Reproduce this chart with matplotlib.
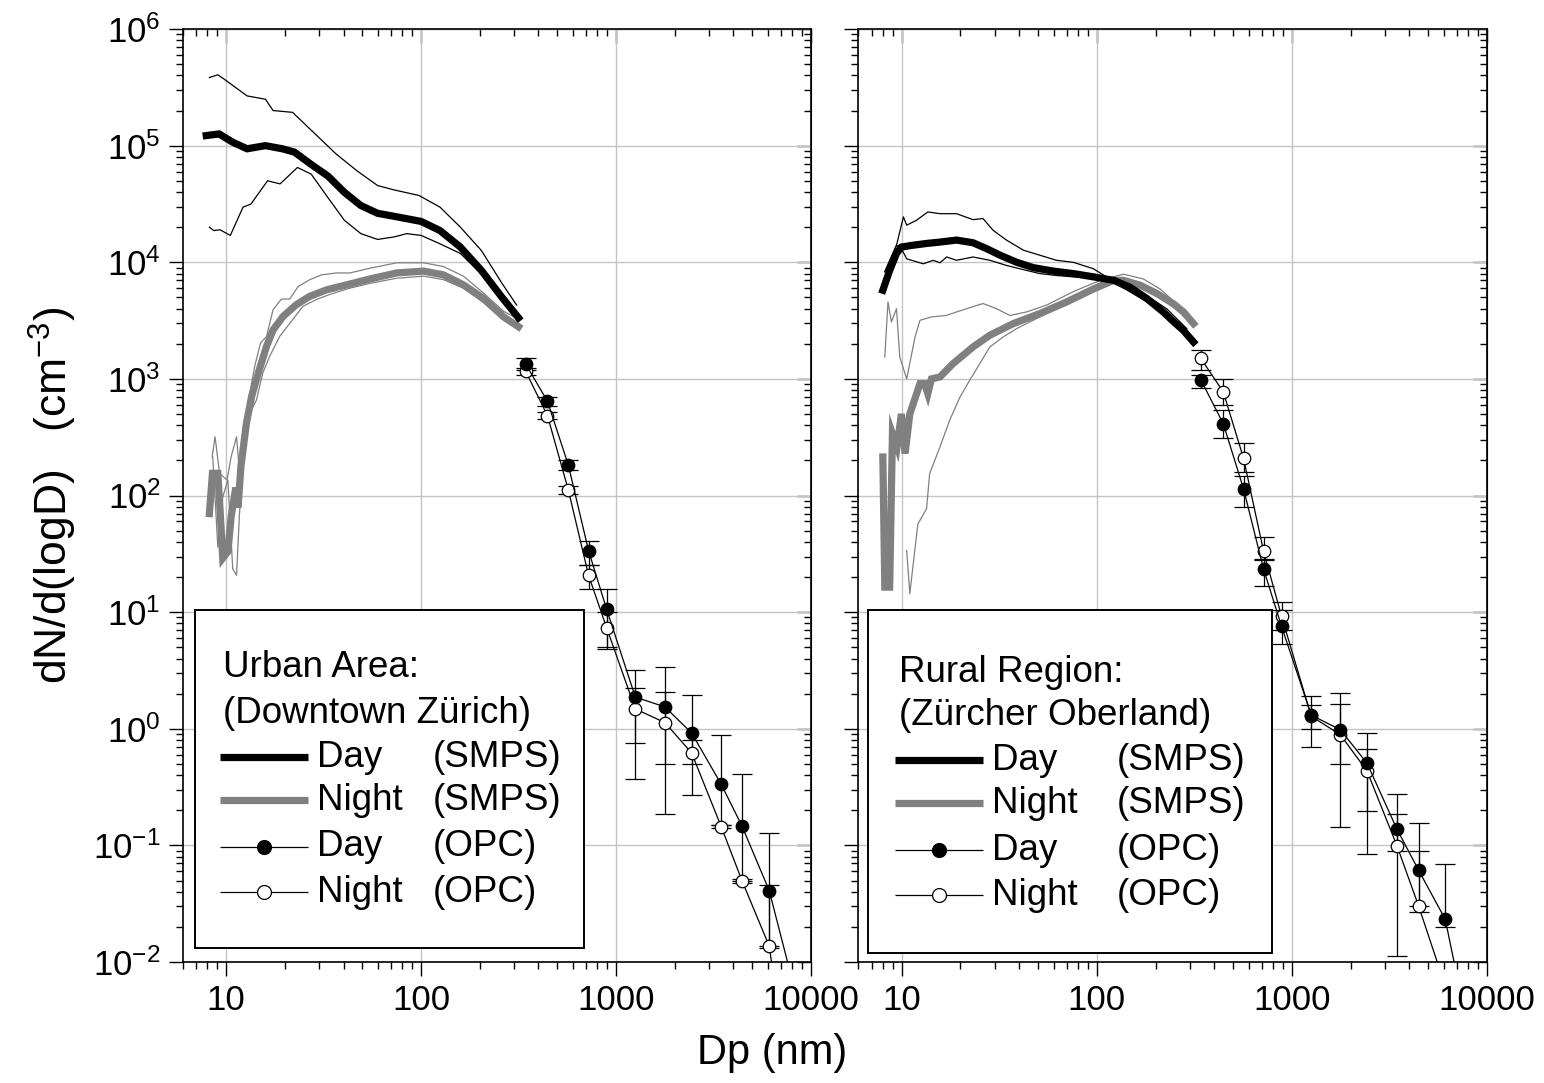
import numpy as np
import matplotlib
matplotlib.use('Agg')
import matplotlib.pyplot as plt
from matplotlib.ticker import LogLocator, FuncFormatter, NullFormatter
from matplotlib.patches import Rectangle
from matplotlib.lines import Line2D

plt.rcParams['font.family'] = ['Liberation Sans', 'DejaVu Sans']
plt.rcParams['mathtext.fontset'] = 'custom'
plt.rcParams['mathtext.rm'] = 'Liberation Sans'
plt.rcParams['mathtext.it'] = 'Liberation Sans:italic'

# ---------------- Urban (left) ----------------
u_day_D = [7.9, 9.2, 10.8, 12.8, 15.9, 19.4, 22.4, 27.3, 33.2, 40.4, 49, 59.8, 76.4, 100, 125, 159, 204, 260, 316]
u_day_N = [1.22e5, 1.26e5, 1.07e5, 9.4e4, 1.0e5, 9.4e4, 8.8e4, 6.9e4, 5.5e4, 3.98e4, 3.07e4, 2.63e4, 2.44e4,
           2.24e4, 1.87e4, 1.35e4, 8.5e3, 5.0e3, 3.34e3]
u_dayhi_D = [8.2, 9.06, 9.8, 12.8, 15.9, 17.4, 21.9, 28.6, 36.6, 46.8, 59.8, 72.8, 97.5, 125, 159, 204, 260, 309]
u_dayhi_N = [3.84e5, 4.05e5, 3.7e5, 2.67e5, 2.5e5, 2.0e5, 1.93e5, 1.26e5, 8.5e4, 6.1e4, 4.55e4, 4.17e4, 3.74e4,
             2.97e4, 2.0e4, 1.26e4, 6.6e3, 4.3e3]
u_daylo_D = [8.2, 8.63, 9.29, 10.5, 12.2, 13.4, 16.3, 18.9, 23.2, 27.3, 33.2, 40.4, 49.1, 59.8, 72.8, 84.4, 100,
             125, 159, 204, 260, 308]
u_daylo_N = [2.0e4, 1.87e4, 1.9e4, 1.7e4, 2.97e4, 3.16e4, 5.0e4, 4.7e4, 6.5e4, 5.7e4, 3.6e4, 2.29e4, 1.76e4,
             1.57e4, 1.65e4, 1.76e4, 1.7e4, 1.44e4, 1.19e4, 7.9e3, 5.0e3, 3.6e3]

u_night_D = [8.2, 8.5, 9.06, 9.3, 9.6, 10.2, 10.6, 11.2, 11.5, 11.9, 12.7, 13.5, 14.6, 16.1, 17.4, 19.6, 22.9,
             26.8, 32.7, 41.4, 54.7, 75, 103, 130, 165, 209, 265, 316]
u_night_N = [70, 155, 155, 75, 29, 33, 66, 117, 79, 178, 417, 705, 1.12e3, 1.9e3, 2.63e3, 3.44e3, 4.33e3, 5.1e3,
             5.8e3, 6.4e3, 7.2e3, 8.1e3, 8.4e3, 7.8e3, 6.4e3, 4.9e3, 3.4e3, 2.8e3]
u_nighthi_D = [8.47, 8.77, 9.24, 10.1, 10.6, 11.3, 11.7, 12.4, 13.2, 14.0, 15.0, 16.1, 17.4, 19.2, 21.2, 23.4,
               26.9, 30.8, 36.8, 43.1, 54.7, 75, 103, 130, 165, 209, 265, 310]
u_nighthi_N = [215, 319, 155, 136, 215, 319, 155, 389, 753, 1.28e3, 2.03e3, 2.31e3, 3.92e3, 4.84e3, 4.84e3, 6.2e3,
               7.1e3, 7.8e3, 8.1e3, 8.1e3, 8.9e3, 9.9e3, 9.9e3, 9.2e3, 7.6e3, 5.45e3, 3.8e3, 3.3e3]
u_nightlo_D = [8.53, 9.06, 9.6, 10.2, 10.8, 11.3, 11.7, 12.4, 13.2, 14.3, 15.4, 16.7, 18.8, 21.2, 24.8, 29.1,
               34.0, 43.1, 54.7, 75, 103, 130, 165, 209, 265, 310]
u_nightlo_N = [215, 36, 97, 136, 23.5, 20.7, 70, 262, 507, 660, 1.12e3, 1.56e3, 2.31e3, 3.0e3, 4.2e3, 4.8e3,
               5.3e3, 6.0e3, 6.6e3, 7.3e3, 7.6e3, 7.1e3, 6.0e3, 4.5e3, 3.2e3, 2.73e3]

u_opc_D = [344, 445, 569, 723, 895, 1256, 1782, 2444, 3470, 4426, 6110, 8000]
u_opcday_N = [1340, 643, 183, 33.7, 10.6, 1.87, 1.54, 0.92, 0.333, 0.147, 0.041, 0.0071]
u_opcday_hi = [1500, 700, 200, 41, 15.7, 3.2, 3.4, 1.96, 0.89, 0.41, 0.128, np.nan]
u_opcday_lo = [1200, 590, 167, 25.3, 4.8, 0.37, 0.185, 0.27, 0.15, 0.05, 0.0137, np.nan]
u_opcnight_N = [1160, 484, 112, 20.7, 7.36, 1.48, 1.13, 0.62, 0.144, 0.05, 0.0137, 0.0006]
u_opcnight_hi = [1230, 520, 120, 25.3, 10.0, 2.24, 2.05, 0.8, 0.15, 0.052, 0.046, np.nan]
u_opcnight_lo = [1090, 450, 104, 15.7, 5.05, 0.75, 0.5, 0.5, 0.14, 0.048, 0.0133, np.nan]

# ---------------- Rural (right) ----------------
r_day_D = [8.0, 8.67, 9.4, 9.96, 11.4, 13.4, 15.7, 19.1, 23.2, 27.2, 31.9, 38.8, 47.2, 59.8, 75.7, 96, 122, 148,
           180, 219, 247, 278, 313]
r_day_N = [5.76e3, 8.5e3, 1.19e4, 1.35e4, 1.4e4, 1.45e4, 1.49e4, 1.55e4, 1.47e4, 1.31e4, 1.15e4, 1.0e4, 9.0e3,
           8.4e3, 8.0e3, 7.5e3, 7.0e3, 6.1e3, 4.9e3, 3.75e3, 3.1e3, 2.6e3, 2.07e3]
r_dayhi_D = [8.19, 9.4, 10.2, 10.6, 11.9, 13.6, 15.7, 19.1, 23.2, 26.1, 29.4, 34.4, 42, 51, 62, 75.7, 96, 112,
             142, 180, 229, 289]
r_dayhi_N = [8.3e3, 1.4e4, 2.45e4, 2.08e4, 2.29e4, 2.7e4, 2.61e4, 2.61e4, 2.32e4, 2.37e4, 1.88e4, 1.55e4, 1.27e4,
             1.15e4, 1.04e4, 1.0e4, 8.8e3, 7.5e3, 6.8e3, 5.2e3, 3.97e3, 2.7e3]
r_daylo_D = [8.19, 9.4, 9.96, 10.6, 12.9, 14.5, 15.7, 17.0, 19.1, 23.2, 28.3, 34.4, 42, 51, 62, 75.7, 96, 112,
             142, 180, 229, 289]
r_daylo_N = [8.3e3, 1.4e4, 1.31e4, 1.07e4, 9.7e3, 1.04e4, 9.9e3, 1.11e4, 1.04e4, 1.11e4, 1.04e4, 9.4e3, 8.65e3,
             8.0e3, 7.7e3, 7.5e3, 7.5e3, 7.2e3, 5.8e3, 4.6e3, 3.4e3, 2.3e3]

r_night_D = [8.0, 8.19, 8.67, 8.96, 9.46, 9.96, 10.4, 11.0, 12.4, 13.1, 13.6, 14.2, 15.7, 18.3, 23.2, 28.3, 37.3,
             51, 70, 96, 122, 137, 167, 203, 247, 278, 313]
r_night_N = [214, 16.4, 16.4, 339, 261, 501, 229, 501, 910, 910, 747, 1.0e3, 1.04e3, 1.35e3, 1.88e3, 2.37e3,
             2.98e3, 3.63e3, 4.57e3, 5.9e3, 7.0e3, 7.0e3, 6.35e3, 5.4e3, 4.4e3, 3.75e3, 2.98e3]
r_nighthi_D = [8.19, 8.5, 8.85, 9.4, 9.77, 10.6, 11.7, 12.4, 14.2, 16.9, 21.5, 26.1, 30.6, 35.8, 43.6, 55.3, 75.7,
               104, 137, 173, 211, 257, 300]
r_nighthi_N = [1.54e3, 4.57e3, 3.08e3, 4.0e3, 1.54e3, 1.0e3, 2.29e3, 3.18e3, 3.4e3, 3.5e3, 4.0e3, 4.43e3, 4.0e3,
               3.5e3, 3.75e3, 4.3e3, 5.6e3, 7.0e3, 7.9e3, 7.2e3, 5.9e3, 4.4e3, 3.4e3]
r_nightlo_D = [10.6, 11.0, 11.4, 12.1, 13.4, 13.9, 15.7, 17.6, 19.9, 22.3, 25.1, 28.3, 33.1, 38.8, 51, 70, 96,
               122, 167, 247, 313]
r_nightlo_N = [33.8, 14.4, 24.3, 57, 77, 154, 261, 442, 700, 973, 1.35e3, 1.88e3, 2.29e3, 2.7e3, 3.4e3, 4.4e3,
               6.1e3, 7.0e3, 6.1e3, 4.3e3, 2.8e3]

r_opc_D = [341, 445, 565, 716, 885, 1256, 1771, 2427, 3459, 4467, 6110, 8000]
r_opcday_N = [984, 412, 114, 23.3, 7.55, 1.31, 0.98, 0.506, 0.137, 0.061, 0.0232, 0.0026]
r_opcday_hi = [1084, 537, 148, 28.5, 10.5, 1.92, 2.03, 0.92, 0.277, 0.156, 0.069, np.nan]
r_opcday_lo = [838, 314, 80, 16.9, 5.3, 0.70, 0.5, 0.085, 0.0113, 0.030, 0.020, np.nan]
r_opcnight_N = [1500, 773, 208, 33.2, 9.2, 1.28, 0.89, 0.434, 0.0986, 0.030, 0.0062, np.nan]
r_opcnight_hi = [1760, 1000, 282, 44, 12.2, 1.6, 1.63, 0.67, 0.185, 0.089, np.nan, np.nan]
r_opcnight_lo = [1200, 600, 160, 28, 7.0, 1.0, 0.143, 0.196, 0.09, 0.027, np.nan, np.nan]

GRAY = '#808080'
FS_TICK = 25
FS_LEG = 26.5

fig = plt.figure(figsize=(15.44, 10.83), dpi=100)
ax1 = fig.add_axes([0.1185, 0.1117, 0.4067, 0.8615])
ax2 = fig.add_axes([0.556, 0.1117, 0.4071, 0.8615])


def style_axes(ax, show_ylabels):
    ax.set_xscale('log')
    ax.set_yscale('log')
    ax.set_xlim(6, 10000)
    ax.set_ylim(1e-2, 1e6)
    ax.xaxis.set_major_locator(LogLocator(base=10, numticks=20))
    ax.xaxis.set_minor_locator(LogLocator(base=10, subs=np.arange(2, 10), numticks=50))
    ax.yaxis.set_major_locator(LogLocator(base=10, numticks=20))
    ax.yaxis.set_minor_locator(LogLocator(base=10, subs=np.arange(2, 10), numticks=50))
    ax.xaxis.set_major_formatter(FuncFormatter(lambda v, p: '%d' % round(v)))
    ax.xaxis.set_minor_formatter(NullFormatter())
    ax.yaxis.set_minor_formatter(NullFormatter())
    ax.grid(True, which='major', color='#c4c4c4', lw=1.0, zorder=0)
    ax.set_axisbelow(True)
    ax.tick_params(which='major', direction='out', length=10, width=1.0, labelsize=FS_TICK, pad=6)
    ax.tick_params(which='minor', direction='out', length=5, width=1.0)
    if not show_ylabels:
        ax.tick_params(axis='y', labelleft=False)
    for s in ax.spines.values():
        s.set_linewidth(1.2)
    # mirrored inward ticks on top and right
    secx = ax.secondary_xaxis('top')
    secx.xaxis.set_major_locator(LogLocator(base=10, numticks=20))
    secx.xaxis.set_minor_locator(LogLocator(base=10, subs=np.arange(2, 10), numticks=50))
    secx.tick_params(which='major', direction='in', length=10, width=1.0, labeltop=False)
    secx.tick_params(which='minor', direction='in', length=5, width=1.0)
    secx.xaxis.set_major_formatter(NullFormatter())
    secx.xaxis.set_minor_formatter(NullFormatter())
    secy = ax.secondary_yaxis('right')
    secy.yaxis.set_major_locator(LogLocator(base=10, numticks=20))
    secy.yaxis.set_minor_locator(LogLocator(base=10, subs=np.arange(2, 10), numticks=50))
    secy.tick_params(which='major', direction='in', length=10, width=1.0, labelright=False)
    secy.tick_params(which='minor', direction='in', length=5, width=1.0)
    secy.yaxis.set_major_formatter(NullFormatter())
    secy.yaxis.set_minor_formatter(NullFormatter())


def draw_panel(ax, day, dayhi, daylo, night, nighthi, nightlo, opcD,
               dN, dhi, dlo, nN, nhi, nlo):
    ax.plot(nighthi[0], nighthi[1], color=GRAY, lw=0.9, zorder=3)
    ax.plot(nightlo[0], nightlo[1], color=GRAY, lw=0.9, zorder=3)
    ax.plot(night[0], night[1], color=GRAY, lw=5.2, zorder=4, solid_joinstyle='miter')
    ax.plot(dayhi[0], dayhi[1], color='black', lw=0.9, zorder=3)
    ax.plot(daylo[0], daylo[1], color='black', lw=0.9, zorder=3)
    ax.plot(day[0], day[1], color='black', lw=5.2, zorder=4, solid_joinstyle='miter')

    opcD = np.array(opcD)
    for N, hi, lo, face in [(nN, nhi, nlo, 'white'), (dN, dhi, dlo, 'black')]:
        N = np.array(N, dtype=float)
        hi = np.array(hi, dtype=float)
        lo = np.array(lo, dtype=float)
        ok = ~np.isnan(hi)
        ax.errorbar(opcD[ok], N[ok], yerr=[N[ok] - lo[ok], hi[ok] - N[ok]], fmt='none',
                    ecolor='black', elinewidth=0.9, capsize=7, capthick=0.9, zorder=5)
        okN = ~np.isnan(N)
        ax.plot(opcD[okN], N[okN], '-o', color='black', lw=0.9, ms=9, mfc=face, mec='black',
                mew=0.9, zorder=6)


def draw_legend(ax, box, title1, title2, ys, xt, xline, xmark, xword, xinst):
    x0, y0, x1, y1 = box
    ax.add_patch(Rectangle((x0, y0), x1 - x0, y1 - y0, transform=ax.transAxes, facecolor='white',
                           edgecolor='black', lw=1.4, zorder=10, clip_on=False))
    ax.text(xt, ys[0], title1, transform=ax.transAxes, fontsize=FS_LEG, va='center', ha='left', zorder=11)
    ax.text(xt, ys[1], title2, transform=ax.transAxes, fontsize=FS_LEG, va='center', ha='left', zorder=11)
    entries = [('Day', '(SMPS)', 'black', 5.2, None),
               ('Night', '(SMPS)', GRAY, 5.2, None),
               ('Day', '(OPC)', 'black', 0.9, 'black'),
               ('Night', '(OPC)', 'black', 0.9, 'white')]
    for (word, inst, col, lw, mface), y in zip(entries, ys[2:]):
        ax.add_line(Line2D(xline, [y, y], transform=ax.transAxes, color=col, lw=lw, zorder=11,
                           solid_capstyle='butt'))
        if mface is not None:
            ax.add_line(Line2D([xmark], [y], transform=ax.transAxes, marker='o', ms=10, mfc=mface,
                               mec='black', mew=0.9, zorder=12, linestyle='none'))
        ax.text(xword, y, word, transform=ax.transAxes, fontsize=FS_LEG, va='center', ha='left', zorder=11)
        ax.text(xinst, y, inst, transform=ax.transAxes, fontsize=FS_LEG, va='center', ha='left', zorder=11)


style_axes(ax1, True)
style_axes(ax2, False)

draw_panel(ax1, (u_day_D, u_day_N), (u_dayhi_D, u_dayhi_N), (u_daylo_D, u_daylo_N),
           (u_night_D, u_night_N), (u_nighthi_D, u_nighthi_N), (u_nightlo_D, u_nightlo_N),
           u_opc_D, u_opcday_N, u_opcday_hi, u_opcday_lo, u_opcnight_N, u_opcnight_hi, u_opcnight_lo)
draw_panel(ax2, (r_day_D, r_day_N), (r_dayhi_D, r_dayhi_N), (r_daylo_D, r_daylo_N),
           (r_night_D, r_night_N), (r_nighthi_D, r_nighthi_N), (r_nightlo_D, r_nightlo_N),
           r_opc_D, r_opcday_N, r_opcday_hi, r_opcday_lo, r_opcnight_N, r_opcnight_hi, r_opcnight_lo)

draw_legend(ax1, (0.019, 0.015, 0.6385, 0.3773), 'Urban Area:', '(Downtown Zürich)',
            [0.3162, 0.2669, 0.2197, 0.1736, 0.1233, 0.075], 0.0637, [0.059, 0.199], 0.129, 0.2134, 0.398)
draw_legend(ax2, (0.0151, 0.0096, 0.658, 0.3773), 'Rural Region:', '(Zürcher Oberland)',
            [0.3108, 0.2647, 0.2165, 0.1704, 0.12, 0.0718], 0.0644, [0.058, 0.198], 0.128, 0.2124, 0.411)

ax1.set_ylabel(r'dN/d(logD)   (cm$^{-3}$)', fontsize=32, labelpad=10)
fig.text(0.5, 0.028, 'Dp (nm)', fontsize=30, ha='center', va='center')

fig.savefig('out.png', dpi=100)
